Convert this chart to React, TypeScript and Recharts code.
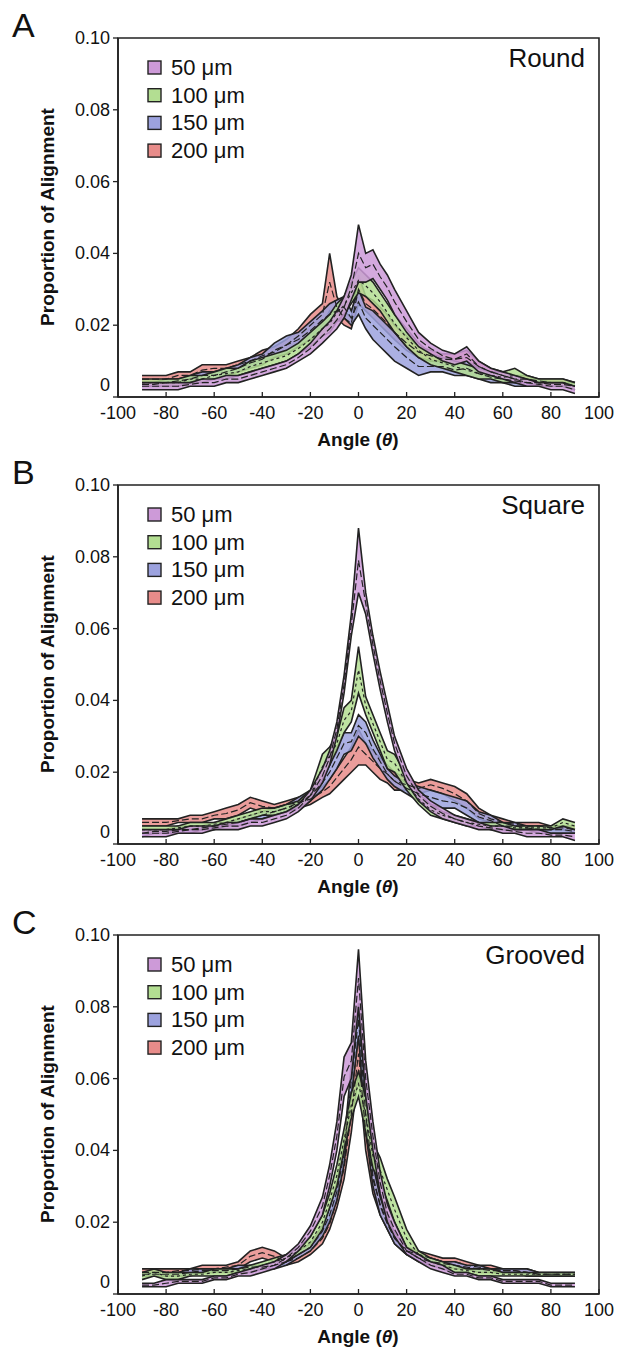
import React from 'react';
import { ComposedChart, Area, Line, XAxis, YAxis, ReferenceArea } from 'recharts';

// angle bins (deg)
const angles = [-90, -85, -80, -75, -70, -65, -60, -55, -50, -45, -40, -35, -30, -25, -20, -15, -12, -9, -6, -3, 0, 3, 6, 9, 12, 15, 20, 25, 30, 35, 40, 45, 50, 55, 60, 65, 70, 75, 80, 85, 90];

const sizes = ['50 μm', '100 μm', '150 μm', '200 μm'];
const colors = ['#cd9ad8', '#b3de92', '#9ca2de', '#e88c8a'];
const dashes = ['7 3', '3 3', '7 3', '7 3'];

const xTicks = [-100, -80, -60, -40, -20, 0, 20, 40, 60, 80, 100];
const yTicks = [0, 0.02, 0.04, 0.06, 0.08, 0.1];

// [low, high] band per angle
const round50 = [[.002,.004],[.002,.004],[.002,.004],[.002,.004],[.003,.004],[.003,.005],[.003,.005],[.004,.006],[.004,.006],[.005,.007],[.006,.008],[.007,.009],[.008,.010],[.010,.012],[.012,.015],[.015,.019],[.017,.021],[.019,.024],[.022,.028],[.027,.034],[.032,.048],[.032,.040],[.033,.041],[.030,.037],[.027,.034],[.023,.030],[.018,.024],[.014,.018],[.012,.015],[.010,.013],[.009,.012],[.010,.014],[.007,.010],[.006,.008],[.005,.007],[.004,.006],[.003,.005],[.003,.004],[.002,.004],[.002,.004],[.001,.003]];
const round100 = [[.003,.005],[.003,.005],[.003,.005],[.003,.005],[.004,.006],[.004,.006],[.005,.007],[.005,.008],[.006,.008],[.007,.010],[.008,.011],[.009,.012],[.010,.013],[.012,.015],[.014,.018],[.017,.021],[.018,.023],[.021,.026],[.023,.028],[.026,.032],[.029,.036],[.028,.034],[.026,.032],[.024,.029],[.021,.026],[.018,.023],[.014,.019],[.011,.015],[.009,.012],[.008,.011],[.007,.010],[.006,.009],[.005,.008],[.005,.007],[.004,.007],[.004,.008],[.004,.006],[.003,.005],[.003,.005],[.003,.005],[.002,.004]];
const round150 = [[.003,.004],[.003,.004],[.003,.005],[.004,.005],[.004,.006],[.005,.007],[.005,.007],[.006,.008],[.007,.009],[.008,.011],[.009,.012],[.011,.015],[.012,.017],[.014,.018],[.016,.021],[.019,.024],[.020,.026],[.021,.027],[.022,.028],[.020,.024],[.023,.030],[.019,.025],[.016,.024],[.014,.022],[.012,.020],[.010,.018],[.008,.014],[.006,.011],[.007,.010],[.007,.010],[.006,.009],[.006,.010],[.005,.008],[.004,.007],[.004,.006],[.003,.006],[.003,.005],[.003,.005],[.003,.004],[.003,.004],[.002,.004]];
const round200 = [[.004,.006],[.004,.006],[.004,.006],[.005,.007],[.005,.007],[.006,.009],[.007,.009],[.007,.009],[.008,.010],[.009,.011],[.010,.013],[.011,.014],[.013,.016],[.015,.019],[.017,.023],[.020,.026],[.024,.040],[.022,.028],[.020,.024],[.019,.022],[.026,.034],[.024,.028],[.022,.027],[.020,.025],[.018,.023],[.016,.020],[.013,.017],[.011,.014],[.010,.013],[.009,.012],[.009,.012],[.009,.013],[.007,.010],[.006,.008],[.005,.007],[.004,.006],[.004,.006],[.004,.005],[.003,.005],[.003,.005],[.002,.004]];

const square50 = [[.002,.004],[.002,.004],[.002,.004],[.003,.004],[.003,.005],[.003,.005],[.004,.005],[.004,.006],[.004,.006],[.005,.007],[.005,.007],[.006,.008],[.007,.009],[.009,.011],[.012,.015],[.017,.021],[.022,.026],[.030,.034],[.042,.047],[.058,.064],[.070,.088],[.064,.070],[.053,.058],[.043,.048],[.034,.039],[.026,.030],[.017,.021],[.012,.015],[.009,.012],[.007,.010],[.006,.008],[.005,.007],[.004,.006],[.004,.005],[.003,.005],[.003,.004],[.002,.004],[.002,.004],[.002,.003],[.002,.003],[.001,.003]];
const square100 = [[.003,.005],[.003,.005],[.003,.005],[.004,.005],[.004,.006],[.004,.006],[.005,.006],[.005,.007],[.006,.008],[.007,.009],[.008,.010],[.008,.010],[.009,.011],[.010,.012],[.012,.015],[.018,.025],[.022,.027],[.026,.030],[.031,.038],[.034,.040],[.042,.055],[.036,.041],[.031,.036],[.026,.031],[.021,.026],[.020,.025],[.015,.019],[.011,.014],[.008,.011],[.007,.009],[.006,.008],[.005,.007],[.005,.006],[.004,.006],[.004,.006],[.004,.005],[.004,.005],[.004,.005],[.004,.005],[.005,.007],[.004,.006]];
const square150 = [[.002,.004],[.003,.004],[.003,.004],[.003,.005],[.003,.005],[.004,.005],[.004,.006],[.005,.006],[.005,.007],[.006,.008],[.007,.009],[.008,.010],[.009,.011],[.010,.013],[.012,.015],[.015,.019],[.018,.022],[.021,.027],[.025,.031],[.026,.031],[.030,.036],[.028,.034],[.024,.029],[.021,.025],[.018,.021],[.016,.019],[.014,.017],[.012,.016],[.011,.015],[.010,.014],[.010,.013],[.008,.012],[.006,.009],[.005,.008],[.004,.006],[.004,.006],[.004,.005],[.003,.005],[.003,.005],[.003,.005],[.003,.004]];
const square200 = [[.005,.007],[.005,.007],[.005,.007],[.006,.007],[.006,.008],[.006,.008],[.007,.009],[.007,.010],[.008,.011],[.010,.013],[.009,.012],[.009,.011],[.010,.012],[.010,.013],[.011,.014],[.013,.016],[.014,.018],[.016,.021],[.018,.024],[.020,.027],[.022,.032],[.022,.028],[.020,.026],[.018,.024],[.017,.022],[.015,.020],[.015,.018],[.014,.017],[.015,.018],[.014,.017],[.012,.016],[.010,.014],[.007,.010],[.006,.008],[.005,.007],[.005,.006],[.004,.006],[.004,.006],[.004,.005],[.004,.005],[.003,.005]];

const grooved50 = [[.002,.003],[.002,.003],[.002,.004],[.003,.004],[.003,.004],[.003,.004],[.004,.005],[.004,.005],[.005,.006],[.005,.007],[.006,.008],[.007,.009],[.009,.011],[.012,.014],[.016,.019],[.022,.027],[.030,.036],[.040,.048],[.055,.066],[.060,.070],[.080,.096],[.055,.065],[.040,.048],[.028,.034],[.020,.025],[.016,.020],[.011,.013],[.009,.011],[.007,.009],[.006,.008],[.005,.006],[.005,.006],[.004,.005],[.004,.005],[.003,.004],[.003,.004],[.003,.004],[.003,.004],[.002,.003],[.002,.003],[.002,.003]];
const grooved100 = [[.004,.006],[.005,.007],[.004,.006],[.004,.006],[.005,.006],[.005,.006],[.005,.007],[.005,.007],[.006,.007],[.006,.008],[.007,.009],[.008,.010],[.009,.011],[.011,.013],[.013,.016],[.018,.022],[.024,.028],[.030,.036],[.040,.046],[.049,.056],[.055,.062],[.045,.055],[.035,.042],[.031,.038],[.026,.032],[.020,.027],[.013,.018],[.010,.012],[.008,.010],[.007,.009],[.006,.008],[.006,.007],[.005,.007],[.005,.007],[.005,.006],[.005,.006],[.005,.006],[.005,.006],[.005,.006],[.005,.006],[.005,.006]];
const grooved150 = [[.005,.006],[.005,.006],[.005,.006],[.005,.006],[.005,.007],[.006,.007],[.006,.007],[.006,.007],[.006,.008],[.007,.008],[.007,.008],[.007,.009],[.008,.010],[.010,.012],[.012,.014],[.016,.019],[.020,.024],[.026,.031],[.036,.042],[.055,.064],[.072,.081],[.045,.055],[.030,.036],[.022,.027],[.018,.021],[.014,.017],[.011,.013],[.009,.011],[.008,.010],[.008,.009],[.007,.009],[.007,.008],[.006,.008],[.006,.007],[.006,.007],[.006,.007],[.005,.007],[.005,.006],[.005,.006],[.005,.006],[.005,.006]];
const grooved200 = [[.005,.007],[.005,.007],[.005,.007],[.006,.007],[.006,.007],[.006,.008],[.006,.008],[.007,.008],[.007,.009],[.009,.012],[.010,.013],[.009,.012],[.008,.010],[.009,.011],[.011,.013],[.014,.017],[.018,.021],[.024,.028],[.032,.038],[.045,.055],[.062,.072],[.040,.050],[.028,.036],[.022,.028],[.018,.022],[.014,.017],[.011,.013],[.010,.012],[.009,.011],[.008,.010],[.008,.010],[.007,.009],[.007,.008],[.006,.008],[.006,.007],[.006,.007],[.005,.007],[.005,.006],[.005,.006],[.005,.006],[.005,.006]];

const FONT = '"Liberation Sans", Arial, Helvetica, sans-serif';
const INK = '#222';

const YTick = (props: any) => {
  const { x, y, payload } = props;
  const v = payload.value;
  return (
    <text x={x} y={v === 0 ? y - 12 : y} textAnchor="end" dominantBaseline="central" fontSize={18} fill="#111" fontFamily={FONT}>
      {v === 0 ? '0' : v.toFixed(2)}
    </text>
  );
};

interface PanelProps {
  top: number;
  letter: string;
  title: string;
  bands: number[][][];
}

const Panel: React.FC<PanelProps> = ({ top, letter, title, bands }) => {
  const data = angles.map((a, i) => {
    const row: any = { angle: a };
    bands.forEach((b, k) => {
      row['band' + k] = b[i];
      row['mean' + k] = (b[i][0] + b[i][1]) / 2;
    });
    return row;
  });
  // draw 200 first, 50 on top
  const order = [3, 2, 1, 0];

  return (
    <div style={{ position: 'absolute', left: 0, top, width: 619, height: 450 }}>
      <ComposedChart width={619} height={450} data={data} margin={{ top: 38, right: 20, bottom: 0, left: 0 }}>
        <XAxis
          dataKey="angle"
          type="number"
          domain={[-100, 100]}
          ticks={xTicks}
          allowDataOverflow
          height={53}
          tickSize={-5}
          tickMargin={14}
          axisLine={{ stroke: INK, strokeWidth: 1.6 }}
          tickLine={{ stroke: INK, strokeWidth: 1.3 }}
          tick={{ fontSize: 18, fill: '#111', fontFamily: FONT }}
        />
        <YAxis
          type="number"
          domain={[0, 0.1]}
          ticks={yTicks}
          allowDataOverflow
          width={118}
          tickSize={5}
          tickMargin={3}
          axisLine={{ stroke: INK, strokeWidth: 1.6 }}
          tickLine={{ stroke: INK, strokeWidth: 1.3 }}
          tick={YTick}
        />
        {order.map((k) => (
          <Area
            key={'a' + k}
            type="linear"
            dataKey={'band' + k}
            stroke={INK}
            strokeWidth={1.6}
            fill={colors[k]}
            fillOpacity={0.85}
            dot={false}
            activeDot={false}
            isAnimationActive={false}
          />
        ))}
        {order.map((k) => (
          <Line
            key={'l' + k}
            type="linear"
            dataKey={'mean' + k}
            stroke={INK}
            strokeWidth={1.2}
            strokeDasharray={dashes[k]}
            dot={false}
            activeDot={false}
            isAnimationActive={false}
          />
        ))}
        <ReferenceArea x1={-100} x2={100} y1={0} y2={0.1} fill="none" stroke={INK} strokeWidth={1.6} ifOverflow="visible" />
      </ComposedChart>
      <svg width={619} height={450} style={{ position: 'absolute', left: 0, top: 0, pointerEvents: 'none' }}>
        <text x={12} y={37} fontSize={34} fill="#111" fontFamily={FONT}>{letter}</text>
        <text x={585} y={58} textAnchor="end" dominantBaseline="central" fontSize={26} fill="#111" fontFamily={FONT}>{title}</text>
        {sizes.map((s, i) => (
          <g key={s}>
            <rect x={148} y={61 + i * 27.7} width={13} height={13} fill={colors[i]} stroke={INK} strokeWidth={1.4} />
            <text x={171} y={67.5 + i * 27.7} dominantBaseline="central" fontSize={22} fill="#111" fontFamily={FONT}>{s}</text>
          </g>
        ))}
        <text
          x={47}
          y={217}
          transform="rotate(-90 47 217)"
          textAnchor="middle"
          dominantBaseline="central"
          fontSize={19}
          fontWeight="bold"
          fill="#111"
          fontFamily={FONT}
        >
          Proportion of Alignment
        </text>
        <text x={358} y={439} textAnchor="middle" dominantBaseline="central" fontSize={19} fontWeight="bold" fill="#111" fontFamily={FONT}>
          Angle (<tspan fontStyle="italic">θ</tspan>)
        </text>
      </svg>
    </div>
  );
};

export default function App() {
  return (
    <div style={{ position: 'absolute', left: 0, top: 0, width: 619, height: 1347, background: '#fff', overflow: 'hidden' }}>
      <Panel top={0} letter="A" title="Round" bands={[round50, round100, round150, round200]} />
      <Panel top={447} letter="B" title="Square" bands={[square50, square100, square150, square200]} />
      <Panel top={897} letter="C" title="Grooved" bands={[grooved50, grooved100, grooved150, grooved200]} />
    </div>
  );
}
